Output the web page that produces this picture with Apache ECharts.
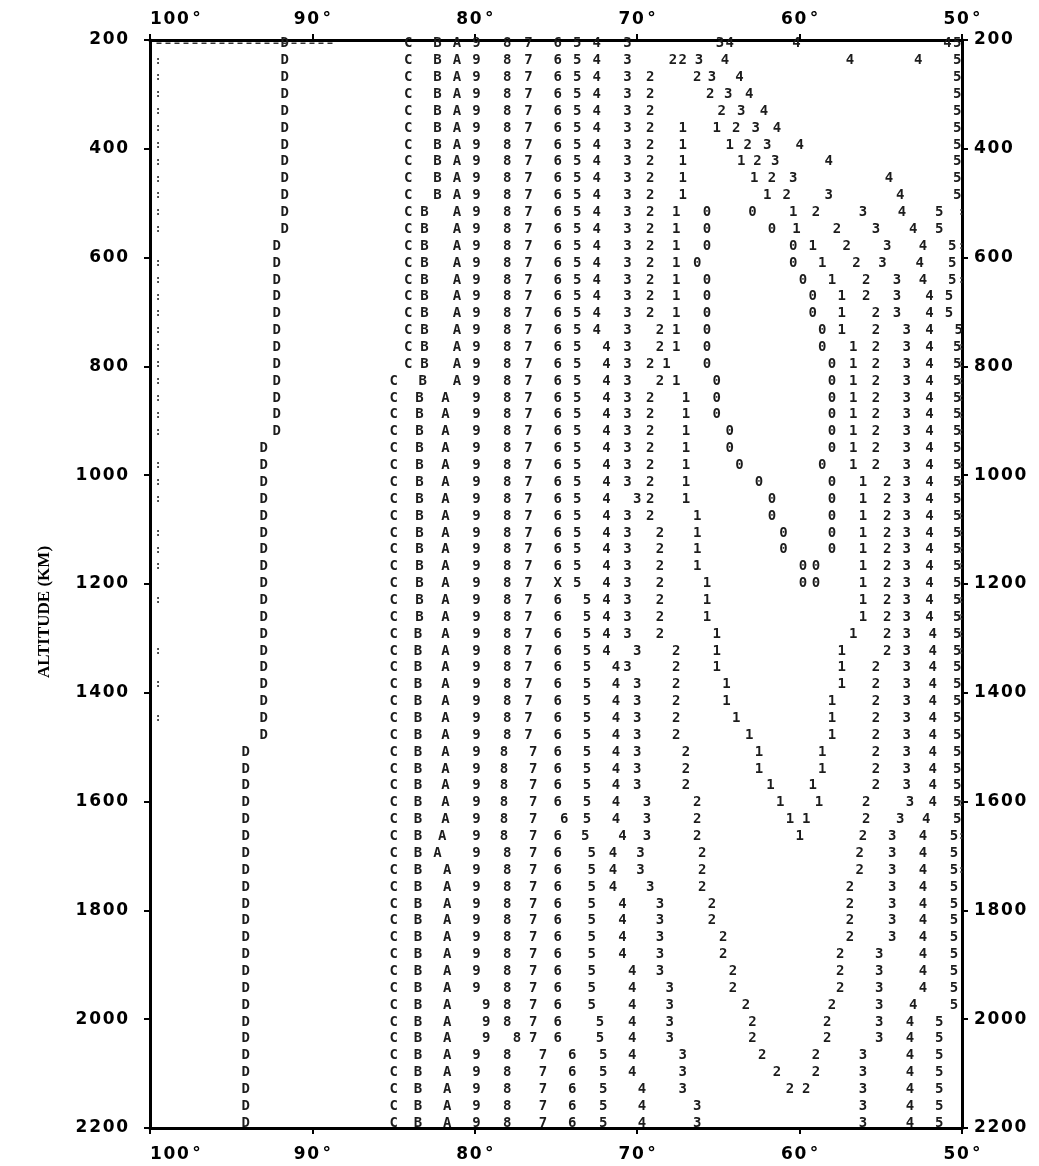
<!DOCTYPE html>
<html><head><meta charset="utf-8">
<script src="https://cdn.jsdelivr.net/npm/echarts@6/dist/echarts.min.js"></script>
<style>html,body{margin:0;padding:0;background:#fff}#c{width:1039px;height:1166px}</style>
</head><body><div id="c"></div>
<script>
// Altitude of each printed row (km)
const altitudes = [207,238,269,300,331,362,393,424,455,486,
517,548,579,610,641,672,703,734,765,796,
827,858,889,920,951,982,1013,1044,1075,1106,
1137,1168,1199,1230,1261,1292,1323,1354,1385,1416,
1447,1478,1509,1540,1571,1602,1633,1664,1695,1726,
1757,1788,1819,1850,1881,1912,1943,1974,2005,2036,
2067,2098,2129,2160,2191];

const xTicks = [100, 90, 80, 70, 60, 50];
const yTicks = [200,400,600,800,1000,1200,1400,1600,1800,2000,2200];

// Position (degrees) of each contour character on each row
const colD = [
91.7,91.7,91.7,91.7,91.7,91.7,91.7,91.7,91.7,91.7,
91.7,91.7,92.2,92.2,92.2,92.2,92.2,92.2,92.2,92.2,
92.2,92.2,92.2,92.2,93.0,93.0,93.0,93.0,93.0,93.0,
93.0,93.0,93.0,93.0,93.0,93.0,93.0,93.0,93.0,93.0,
93.0,93.0,94.1,94.1,94.1,94.1,94.1,94.1,94.1,94.1,
94.1,94.1,94.1,94.1,94.1,94.1,94.1,94.1,94.1,94.1,
94.1,94.1,94.1,94.1,94.1];
const colC = [
84.1,84.1,84.1,84.1,84.1,84.1,84.1,84.1,84.1,84.1,
84.1,84.1,84.1,84.1,84.1,84.1,84.1,84.1,84.1,84.1,
85.0,85.0,85.0,85.0,85.0,85.0,85.0,85.0,85.0,85.0,
85.0,85.0,85.0,85.0,85.0,85.0,85.0,85.0,85.0,85.0,
85.0,85.0,85.0,85.0,85.0,85.0,85.0,85.0,85.0,85.0,
85.0,85.0,85.0,85.0,85.0,85.0,85.0,85.0,85.0,85.0,
85.0,85.0,85.0,85.0,85.0];
const colB = [
82.3,82.3,82.3,82.3,82.3,82.3,82.3,82.3,82.3,82.3,
83.1,83.1,83.1,83.1,83.1,83.1,83.1,83.1,83.1,83.1,
83.2,83.4,83.4,83.4,83.4,83.4,83.4,83.4,83.4,83.4,
83.4,83.4,83.4,83.4,83.4,83.5,83.5,83.5,83.5,83.5,
83.5,83.5,83.5,83.5,83.5,83.5,83.5,83.5,83.5,83.5,
83.5,83.5,83.5,83.5,83.5,83.5,83.5,83.5,83.5,83.5,
83.5,83.5,83.5,83.5,83.5];
const colA = [
81.1,81.1,81.1,81.1,81.1,81.1,81.1,81.1,81.1,81.1,
81.1,81.1,81.1,81.1,81.1,81.1,81.1,81.1,81.1,81.1,
81.1,81.8,81.8,81.8,81.8,81.8,81.8,81.8,81.8,81.8,
81.8,81.8,81.8,81.8,81.8,81.8,81.8,81.8,81.8,81.8,
81.8,81.8,81.8,81.8,81.8,81.8,81.8,82.0,82.3,81.7,
81.7,81.7,81.7,81.7,81.7,81.7,81.7,81.7,81.7,81.7,
81.7,81.7,81.7,81.7,81.7];
const col9 = [
79.9,79.9,79.9,79.9,79.9,79.9,79.9,79.9,79.9,79.9,
79.9,79.9,79.9,79.9,79.9,79.9,79.9,79.9,79.9,79.9,
79.9,79.9,79.9,79.9,79.9,79.9,79.9,79.9,79.9,79.9,
79.9,79.9,79.9,79.9,79.9,79.9,79.9,79.9,79.9,79.9,
79.9,79.9,79.9,79.9,79.9,79.9,79.9,79.9,79.9,79.9,
79.9,79.9,79.9,79.9,79.9,79.9,79.9,79.3,79.3,79.3,
79.9,79.9,79.9,79.9,79.9];
const col8 = [
78.0,78.0,78.0,78.0,78.0,78.0,78.0,78.0,78.0,78.0,
78.0,78.0,78.0,78.0,78.0,78.0,78.0,78.0,78.0,78.0,
78.0,78.0,78.0,78.0,78.0,78.0,78.0,78.0,78.0,78.0,
78.0,78.0,78.0,78.0,78.0,78.0,78.0,78.0,78.0,78.0,
78.0,78.0,78.2,78.2,78.2,78.2,78.2,78.2,78.0,78.0,
78.0,78.0,78.0,78.0,78.0,78.0,78.0,78.0,78.0,77.4,
78.0,78.0,78.0,78.0,78.0];
const col7 = [
76.7,76.7,76.7,76.7,76.7,76.7,76.7,76.7,76.7,76.7,
76.7,76.7,76.7,76.7,76.7,76.7,76.7,76.7,76.7,76.7,
76.7,76.7,76.7,76.7,76.7,76.7,76.7,76.7,76.7,76.7,
76.7,76.7,76.7,76.7,76.7,76.7,76.7,76.7,76.7,76.7,
76.7,76.7,76.4,76.4,76.4,76.4,76.4,76.4,76.4,76.4,
76.4,76.4,76.4,76.4,76.4,76.4,76.4,76.4,76.4,76.4,
75.8,75.8,75.8,75.8,75.8];
const col6 = [
74.9,74.9,74.9,74.9,74.9,74.9,74.9,74.9,74.9,74.9,
74.9,74.9,74.9,74.9,74.9,74.9,74.9,74.9,74.9,74.9,
74.9,74.9,74.9,74.9,74.9,74.9,74.9,74.9,74.9,74.9,
74.9,74.9,null,74.9,74.9,74.9,74.9,74.9,74.9,74.9,
74.9,74.9,74.9,74.9,74.9,74.9,74.5,74.9,74.9,74.9,
74.9,74.9,74.9,74.9,74.9,74.9,74.9,74.9,74.9,74.9,
74.0,74.0,74.0,74.0,74.0];
const colX = [[74.9, 1199]];
const col5L = [
73.7,73.7,73.7,73.7,73.7,73.7,73.7,73.7,73.7,73.7,
73.7,73.7,73.7,73.7,73.7,73.7,73.7,73.7,73.7,73.7,
73.7,73.7,73.7,73.7,73.7,73.7,73.7,73.7,73.7,73.7,
73.7,73.7,73.7,73.1,73.1,73.1,73.1,73.1,73.1,73.1,
73.1,73.1,73.1,73.1,73.1,73.1,73.1,73.2,72.8,72.8,
72.8,72.8,72.8,72.8,72.8,72.8,72.8,72.8,72.3,72.3,
72.1,72.1,72.1,72.1,72.1];
const col4L = [
72.5,72.5,72.5,72.5,72.5,72.5,72.5,72.5,72.5,72.5,
72.5,72.5,72.5,72.5,72.5,72.5,72.5,72.5,71.9,71.9,
71.9,71.9,71.9,71.9,71.9,71.9,71.9,71.9,71.9,71.9,
71.9,71.9,71.9,71.9,71.9,71.9,71.9,71.3,71.3,71.3,
71.3,71.3,71.3,71.3,71.3,71.3,71.3,70.9,71.5,71.5,
71.5,70.9,70.9,70.9,70.9,70.3,70.3,70.3,70.3,70.3,
70.3,70.3,69.7,69.7,69.7];
const col3L = [
70.6,70.6,70.6,70.6,70.6,70.6,70.6,70.6,70.6,70.6,
70.6,70.6,70.6,70.6,70.6,70.6,70.6,70.6,70.6,70.6,
70.6,70.6,70.6,70.6,70.6,70.6,70.6,70.0,70.6,70.6,
70.6,70.6,70.6,70.6,70.6,70.6,70.0,70.6,70.0,70.0,
70.0,70.0,70.0,70.0,70.0,69.4,69.4,69.4,69.8,69.8,
69.2,68.6,68.6,68.6,68.6,68.6,68.0,68.0,68.0,68.0,
67.2,67.2,67.2,66.3,66.3];
const col2L = [
null,67.8,69.2,69.2,69.2,69.2,69.2,69.2,69.2,69.2,
69.2,69.2,69.2,69.2,69.2,69.2,69.2,68.6,68.6,69.2,
68.6,69.2,69.2,69.2,69.2,69.2,69.2,69.2,69.2,68.6,
68.6,68.6,68.6,68.6,68.6,68.6,67.6,67.6,67.6,67.6,
67.6,67.6,67.0,67.0,67.0,66.3,66.3,66.3,66.0,66.0,
66.0,65.4,65.4,64.7,64.7,64.1,64.1,63.3,62.9,62.9,
62.3,61.4,60.6,null,null];
const col1L = [
null,null,null,null,null,67.2,67.2,67.2,67.2,67.2,
67.6,67.6,67.6,67.6,67.6,67.6,67.6,67.6,67.6,68.2,
67.6,67.0,67.0,67.0,67.0,67.0,67.0,67.0,66.3,66.3,
66.3,66.3,65.7,65.7,65.7,65.1,65.1,65.1,64.5,64.5,
63.9,63.1,62.5,62.5,61.8,61.2,60.6,60.0,null,null,
null,null,null,null,null,null,null,null,null,null,
null,null,null,null,null];
const col0L = [
null,null,null,null,null,null,null,null,null,null,
65.7,65.7,65.7,66.3,65.7,65.7,65.7,65.7,65.7,65.7,
65.1,65.1,65.1,64.3,64.3,63.7,62.5,61.7,61.7,61.0,
61.0,59.8,59.8,null,null,null,null,null,null,null,
null,null,null,null,null,null,null,null,null,null,
null,null,null,null,null,null,null,null,null,null,
null,null,null,null,null];
const col0R = [
null,null,null,null,null,null,null,null,null,null,
62.9,61.7,60.4,60.4,59.8,59.2,59.2,58.6,58.6,58.0,
58.0,58.0,58.0,58.0,58.0,58.6,58.0,58.0,58.0,58.0,
58.0,59.0,59.0,null,null,null,null,null,null,null,
null,null,null,null,null,null,null,null,null,null,
null,null,null,null,null,null,null,null,null,null,
null,null,null,null,null];
const col1R = [
null,null,null,null,null,65.1,64.3,63.6,62.8,62.0,
60.4,60.2,59.2,58.6,58.0,57.4,57.4,57.4,56.7,56.7,
56.7,56.7,56.7,56.7,56.7,56.7,56.1,56.1,56.1,56.1,
56.1,56.1,56.1,56.1,56.1,56.7,57.4,57.4,57.4,58.0,
58.0,58.0,58.6,58.6,59.2,58.8,59.6,null,null,null,
null,null,null,null,null,null,null,null,null,null,
null,null,null,null,null];
const col2R = [
null,67.2,66.3,65.5,64.8,63.9,63.2,62.6,61.7,60.8,
59.0,57.7,57.1,56.5,55.9,55.9,55.3,55.3,55.3,55.3,
55.3,55.3,55.3,55.3,55.3,55.3,54.6,54.6,54.6,54.6,
54.6,54.6,54.6,54.6,54.6,54.6,54.6,55.3,55.3,55.3,
55.3,55.3,55.3,55.3,55.3,55.9,55.9,56.1,56.3,56.3,
56.9,56.9,56.9,56.9,57.5,57.5,57.5,58.0,58.3,58.3,
59.0,59.0,59.6,null,null];
const col3R = [
64.9,66.2,65.4,64.4,63.6,62.7,62.0,61.5,60.4,58.2,
56.1,55.3,54.6,54.9,54.0,54.0,54.0,53.4,53.4,53.4,
53.4,53.4,53.4,53.4,53.4,53.4,53.4,53.4,53.4,53.4,
53.4,53.4,53.4,53.4,53.4,53.4,53.4,53.4,53.4,53.4,
53.4,53.4,53.4,53.4,53.4,53.2,53.8,54.3,54.3,54.3,
54.3,54.3,54.3,54.3,55.1,55.1,55.1,55.1,55.1,55.1,
56.1,56.1,56.1,56.1,56.1];
const col4R = [
64.3,64.6,63.7,63.1,62.2,61.4,60.0,58.2,54.5,53.8,
53.7,53.0,52.4,52.6,52.4,52.0,52.0,52.0,52.0,52.0,
52.0,52.0,52.0,52.0,52.0,52.0,52.0,52.0,52.0,52.0,
52.0,52.0,52.0,52.0,52.0,51.8,51.8,51.8,51.8,51.8,
51.8,51.8,51.8,51.8,51.8,51.8,52.2,52.4,52.4,52.4,
52.4,52.4,52.4,52.4,52.4,52.4,52.4,53.0,53.2,53.2,
53.2,53.2,53.2,53.2,53.2];
const col4Extra = [[60.2, 207], [50.9, 207], [56.9, 238], [52.7, 238]];
const col5R = [
50.3,50.3,50.3,50.3,50.3,50.3,50.3,50.3,50.3,50.3,
51.4,51.4,50.6,50.6,50.6,50.8,50.8,50.2,50.3,50.3,
50.3,50.3,50.3,50.3,50.3,50.3,50.3,50.3,50.3,50.3,
50.3,50.3,50.3,50.3,50.3,50.3,50.3,50.3,50.3,50.3,
50.3,50.3,50.3,50.3,50.3,50.3,50.3,50.5,50.5,50.5,
50.5,50.5,50.5,50.5,50.5,50.5,50.5,50.5,51.4,51.4,
51.4,51.4,51.4,51.4,51.4];
// Stray printer dots along the frame edges (altitudes of rows where visible)
const leftEdgeRows = [238,269,300,331,362,393,424,455,486,517,548,610,641,672,703,734,765,796,827,858,889,920,982,1013,1044,1106,1137,1168,1230,1323,1385,1447];
const rightEdgeRows = [517,579,641,765,796,827,858,889,920,982,1013,1075,1106,1137,1168,1230,1261,1292,1323,1602,1664,1726];
// Dashed printer rule just under the top frame, left part
const topRule = [[99.6, 206], [88.6, 206]];

const columns = [
  ['D', colD], ['C', colC], ['B', colB], ['A', colA], ['9', col9], ['8', col8], ['7', col7], ['6', col6],
  ['5', col5L], ['4', col4L], ['3', col3L], ['2', col2L], ['1', col1L], ['0', col0L],
  ['0', col0R], ['1', col1R], ['2', col2R], ['3', col3R], ['4', col4R], ['5', col5R]
];

const CHAR_FONT = 'bold 14px "DejaVu Sans Mono", monospace';
function charSeries(ch, data, font, color) {
  return {
    type: 'custom', coordinateSystem: 'cartesian2d', xAxisIndex: 0, yAxisIndex: 0,
    silent: true, clip: false, animation: false, data: data,
    renderItem: function (params, api) {
      const p = api.coord([api.value(0), api.value(1)]);
      return { type: 'text', x: p[0], y: p[1],
        style: { text: ch, font: font || CHAR_FONT, fill: color || '#1c1c1c', align: 'center', verticalAlign: 'middle' } };
    }
  };
}
const series = [];
columns.forEach(function (c) {
  const data = [];
  c[1].forEach(function (v, i) { if (v != null) data.push([v, altitudes[i]]); });
  series.push(charSeries(c[0], data));
});
series.push(charSeries('X', colX));
series.push(charSeries('4', col4Extra));
series.push(charSeries(':', leftEdgeRows.map(function (a) { return [99.5, a]; }), 'bold 11px "DejaVu Sans Mono"', '#444'));
series.push(charSeries(':', rightEdgeRows.map(function (a) { return [50.05, a]; }), 'bold 11px "DejaVu Sans Mono"', '#333'));
series.push({ type: 'line', data: topRule, symbol: 'none', silent: true, animation: false,
  lineStyle: { color: '#333', width: 1.5, type: [5, 4] } });

const spaced = function (s) { return String(s).split('').join('\u200A'); };
const axisLine = { show: true, onZero: false, lineStyle: { color: '#000', width: 3 } };
const tickStyle = { show: true, length: 6, lineStyle: { color: '#000', width: 2 } };
const xLab = { color: '#000', fontSize: 17, fontWeight: 'bold', fontFamily: 'DejaVu Sans', alignMaxLabel: 'left',
  formatter: function (v) { return spaced(v) + '\u2009\u00B0'; } };
const yLab = { color: '#000', fontSize: 17, fontWeight: 'bold', fontFamily: 'DejaVu Sans',
  formatter: function (v) { return spaced(v); } };

const option = {
  backgroundColor: '#fff',
  animation: false,
  grid: { left: 150, right: 77, top: 40, bottom: 38, show: false },
  xAxis: [
    { type: 'value', position: 'bottom', min: xTicks[xTicks.length-1], max: xTicks[0], interval: 10, inverse: true,
      axisLine: axisLine, axisTick: tickStyle, splitLine: { show: false }, axisLabel: Object.assign({ margin: 18 }, xLab) },
    { type: 'value', position: 'top', min: xTicks[xTicks.length-1], max: xTicks[0], interval: 10, inverse: true,
      axisLine: axisLine, axisTick: tickStyle, splitLine: { show: false }, axisLabel: Object.assign({ margin: 12 }, xLab) }
  ],
  yAxis: [
    { type: 'value', position: 'left', min: yTicks[0], max: yTicks[yTicks.length-1], interval: 200, inverse: true,
      axisLine: axisLine, axisTick: tickStyle, splitLine: { show: false }, axisLabel: Object.assign({ margin: 22 }, yLab) },
    { type: 'value', position: 'right', min: yTicks[0], max: yTicks[yTicks.length-1], interval: 200, inverse: true,
      axisLine: axisLine, axisTick: tickStyle, splitLine: { show: false }, axisLabel: Object.assign({ margin: 12 }, yLab) }
  ],
  graphic: [
    { type: 'text', x: 45, y: 612, rotation: Math.PI / 2,
      style: { text: 'ALTITUDE (KM)', font: 'bold 17px "Liberation Serif", serif', fill: '#000', align: 'center', verticalAlign: 'middle' } }
  ],
  series: series
};
const chart = echarts.init(document.getElementById('c'), null, { renderer: 'canvas' });
chart.setOption(option);
</script></body></html>
